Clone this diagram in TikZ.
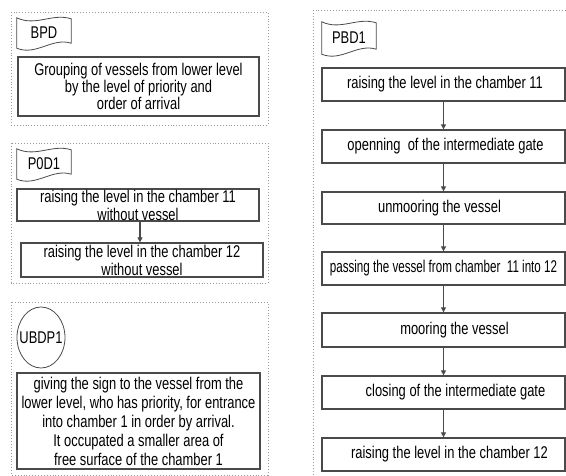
\documentclass[tikz,border=0pt]{standalone}
\usepackage{fontspec}
\setmainfont[FakeStretch=0.76]{Liberation Sans}
\usetikzlibrary{arrows.meta,shapes.geometric}
\definecolor{boxc}{HTML}{4A4A4A}
\definecolor{framec}{HTML}{9A9A9A}
\begin{document}
\begin{tikzpicture}[x=1pt,y=-1pt,
  frame/.style={draw=framec,line width=0.9pt,dotted},
  box/.style={draw=boxc,line width=1.3pt,inner sep=0pt,align=center,
    font=\fontsize{17}{19}\selectfont},
  flagtxt/.style={inner sep=0pt,font=\fontsize{17}{18}\selectfont},
  flagline/.style={draw=boxc,line width=0.8pt},
  conn/.style={draw=boxc,line width=1.2pt,-{Triangle[length=5pt,width=5pt]}}]
\useasboundingbox (0,0) rectangle (566,476);
\clip (0,0) rectangle (566,476);
% ---------- frames
\draw[frame] (11,12) rectangle (268,125);
\draw[frame] (11,143) rectangle (268,283);
\draw[frame] (11,302) rectangle (268,475);
\draw[frame] (313,10) rectangle (580,490);
% ---------- flags
\newcommand{\flagshape}[1]{%
  \draw[flagline] (#1.north west) .. controls +(19,9) and +(-19,-6) .. ([yshift=-1pt]#1.north east)
    -- ([yshift=5pt]#1.south east) .. controls +(-19,-6) and +(19,8) .. (#1.south west) -- cycle;}
\node[flagtxt,minimum width=54pt,minimum height=30pt] (fbpd) at (44,33) {BPD};
\flagshape{fbpd}
\node[flagtxt,minimum width=54pt,minimum height=30pt] (fpod) at (44,164) {P0D1};
\flagshape{fpod}
\node[flagtxt,minimum width=54pt,minimum height=32pt] (fpbd) at (349,38) {PBD1};
\flagshape{fpbd}
\node[inner sep=0pt,font=\fontsize{17}{18}\selectfont] (ubdp) at (41,337.5) {UBDP1};
\draw[draw=boxc,line width=0.8pt] (ubdp.center) ellipse [x radius=24pt, y radius=30.5pt];
% ---------- left boxes
\node[box,minimum width=241pt,minimum height=59pt] (grp) at (138.5,86.5)
  {Grouping of vessels from lower level\\[-2pt]by the level of priority and\\[-2pt]order of arrival};
\node[box,minimum width=242pt,minimum height=32pt] (p1) at (138,205)
  {raising the level in the chamber 11\\[-1pt]without vessel};
\node[box,minimum width=242pt,minimum height=34pt] (p2) at (142,260)
  {raising the level in the chamber 12\\[-1pt]without vessel};
\draw[conn] (p1.south) ++(2,0) coordinate (p1s) -- (p1s |- p2.north);
\node[box,minimum width=243pt,minimum height=96pt] (ub) at (138.5,421)
  {giving the sign to the vessel from the\\lower level, who has priority, for entrance\\into chamber 1 in order by arrival.\\It occupated a smaller area of\\free surface of the chamber 1};
% ---------- right boxes
\node[box,minimum width=243pt,minimum height=33pt] (r1) at (443.5,84.5)
  {\hspace*{3pt}raising the level in the chamber 11};
\node[box,minimum width=243pt,minimum height=33pt] (r2) at (443.5,146.5)
  {\hspace*{4pt}openning\ \ of the intermediate gate};
\node[box,minimum width=243pt,minimum height=32pt] (r3) at (443.5,208)
  {unmooring the vessel\hspace*{8pt}};
\node[box,minimum width=243pt,minimum height=33pt] (r4) at (443.5,268.5)
  {\scalebox{0.9}[1]{passing the vessel from chamber\ \ 11 into 12}};
\node[box,minimum width=243pt,minimum height=34pt] (r5) at (443.5,330)
  {\hspace*{22pt}mooring the vessel};
\node[box,minimum width=243pt,minimum height=33pt] (r6) at (443.5,392.5)
  {\hspace*{24pt}closing of the intermediate gate};
\node[box,minimum width=243pt,minimum height=33pt] (r7) at (443.5,454.5)
  {\hspace*{12pt}raising the level in the chamber 12};
\draw[conn] (r1) -- (r2);
\draw[conn] (r2) -- (r3);
\draw[conn] (r3) -- (r4);
\draw[conn] (r4) -- (r5);
\draw[conn] (r5) -- (r6);
\draw[conn] (r6) -- (r7);
\end{tikzpicture}
\end{document}
